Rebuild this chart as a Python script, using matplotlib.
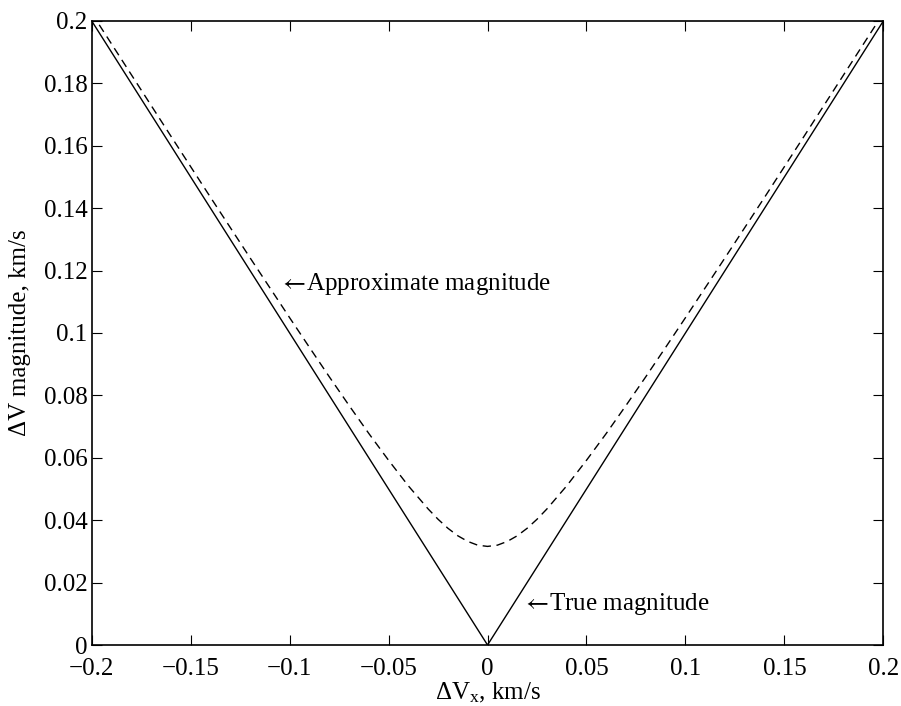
import matplotlib
matplotlib.use("Agg")
import matplotlib.pyplot as plt

plt.rcParams['font.family'] = ['Liberation Serif', 'DejaVu Serif']
plt.rcParams['mathtext.fontset'] = 'stix'

# true magnitude |dVx|
true_dvx = [-0.2, 0.0, 0.2]
true_mag = [0.2, 0.0, 0.2]

# approximate magnitude
approx_dvx = [-0.2, -0.18, -0.16, -0.14, -0.12, -0.1, -0.09, -0.08, -0.07, -0.06,
              -0.05, -0.04, -0.03, -0.025, -0.02, -0.015, -0.01, -0.005, 0.0,
              0.005, 0.01, 0.015, 0.02, 0.025, 0.03, 0.04, 0.05, 0.06, 0.07,
              0.08, 0.09, 0.1, 0.12, 0.14, 0.16, 0.18, 0.2]
approx_mag = [0.2025, 0.1828, 0.1631, 0.1435, 0.1241, 0.1049, 0.0954, 0.0860,
              0.0768, 0.0678, 0.0592, 0.0510, 0.0436, 0.0403, 0.0374, 0.0350,
              0.0332, 0.0320, 0.0316, 0.0320, 0.0332, 0.0350, 0.0374, 0.0403,
              0.0436, 0.0510, 0.0592, 0.0678, 0.0768, 0.0860, 0.0954, 0.1049,
              0.1241, 0.1435, 0.1631, 0.1828, 0.2025]

xticks = [-0.2, -0.15, -0.1, -0.05, 0, 0.05, 0.1, 0.15, 0.2]
xlabels = ['\u22120.2', '\u22120.15', '\u22120.1', '\u22120.05', '0',
           '0.05', '0.1', '0.15', '0.2']
yticks = [0, 0.02, 0.04, 0.06, 0.08, 0.1, 0.12, 0.14, 0.16, 0.18, 0.2]
ylabels = ['0', '0.02', '0.04', '0.06', '0.08', '0.1', '0.12', '0.14',
           '0.16', '0.18', '0.2']

fig = plt.figure(figsize=(9.01, 7.06), dpi=100)
ax = fig.add_axes([0.1018, 0.0864, 0.8786, 0.8839])

ax.plot(true_dvx, true_mag, 'k-', lw=1)
ax.plot(approx_dvx, approx_mag, 'k--', lw=1, dashes=(6, 4))

ax.set_xlim(-0.2, 0.2)
ax.set_ylim(0, 0.2)
ax.set_xticks(xticks)
ax.set_xticklabels(xlabels)
ax.set_yticks(yticks)
ax.set_yticklabels(ylabels)
ax.tick_params(direction='in', length=7, width=0.8, labelsize=18,
               top=True, right=True)
ax.tick_params(axis='x', pad=9)
ax.tick_params(axis='y', pad=3)
for s in ax.spines.values():
    s.set_linewidth(1.2)

ax.text(-0.1055, 0.1157, r'$\leftarrow\!$Approximate magnitude', fontsize=18,
        ha='left', va='center')
ax.text(0.0175, 0.0131, r'$\leftarrow\!$True magnitude', fontsize=18,
        ha='left', va='center')

ax.set_xlabel('\u0394V$\\mathregular{_x}$, km/s', fontsize=18, labelpad=1)
ax.set_ylabel('\u0394V magnitude, km/s', fontsize=18, labelpad=9)

fig.savefig('out.png', dpi=100)
